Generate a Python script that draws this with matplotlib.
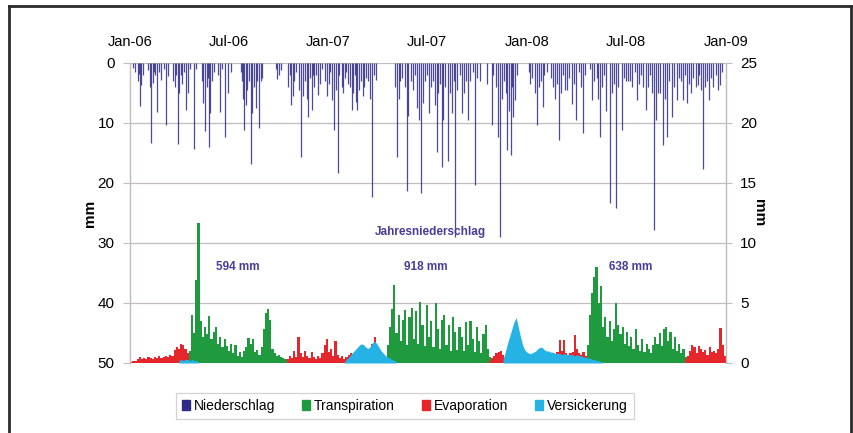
import numpy as np
import matplotlib
matplotlib.use("Agg")
import matplotlib.pyplot as plt
from matplotlib.patches import Patch
from matplotlib.lines import Line2D

plt.rcParams['font.family'] = ['Liberation Sans', 'DejaVu Sans']

# Tage seit 1.1.2006
x_ticks = [0, 181, 365, 546, 730, 912, 1096]
x_labels = ['Jan-06', 'Jul-06', 'Jan-07', 'Jul-07', 'Jan-08', 'Jul-08', 'Jan-09']

# Niederschlag als (Tag, mm)
precip_2006 = [(5, 0.8), (10, 1.5), (14, 3.0), (16, 1.8), (18, 7.2), (20, 3.7), (24, 2.0),
               (33, 1.2), (37, 4.0), (39, 13.3), (42, 3.4), (44, 1.5), (46, 2.0), (50, 8.1),
               (53, 1.5), (57, 2.8), (62, 1.0), (66, 10.3), (70, 2.2), (79, 3.0), (82, 4.0),
               (85, 2.0), (88, 13.5), (91, 5.0), (93, 2.0), (95, 3.5), (99, 1.5), (103, 7.8),
               (106, 5.0), (110, 1.0), (118, 14.4), (122, 1.0), (132, 3.0), (135, 6.7),
               (138, 11.4), (141, 4.0), (143, 2.5), (145, 14.0), (148, 8.4), (151, 3.0),
               (155, 1.5), (162, 2.0), (166, 8.1), (170, 1.0), (175, 12.3), (180, 5.0),
               (186, 1.5), (204, 1.5), (206, 3.0), (208, 6.0), (210, 11.2), (213, 7.0),
               (216, 4.5), (219, 3.0), (222, 16.8), (225, 8.4), (228, 4.0), (231, 7.5),
               (234, 3.0), (237, 10.9), (240, 3.0), (243, 2.5), (268, 1.0), (271, 2.6),
               (274, 2.0), (278, 1.2), (291, 4.0), (294, 2.0), (296, 7.0), (299, 5.5),
               (302, 3.0), (306, 1.5), (310, 4.5), (314, 15.6), (318, 5.5), (321, 3.0),
               (325, 6.0), (328, 9.0), (331, 2.5), (334, 7.8), (336, 2.0), (338, 4.0),
               (342, 2.0), (346, 5.4), (350, 3.5), (353, 1.0), (358, 3.0), (362, 5.5)]
precip_2007 = [(366, 3.5), (368, 1.5), (371, 6.2), (375, 11.2), (378, 4.5), (382, 18.4),
               (385, 2.0), (389, 4.0), (392, 5.0), (395, 2.5), (398, 1.5), (400, 3.5),
               (404, 4.0), (408, 7.8), (411, 5.0), (413, 2.0), (415, 6.5), (418, 7.8),
               (421, 4.5), (425, 3.0), (428, 5.5), (431, 4.0), (434, 2.5), (438, 3.0),
               (442, 6.0), (445, 22.4), (449, 2.0), (453, 2.8), (488, 4.0), (491, 15.6),
               (494, 6.0), (497, 3.0), (501, 2.5), (505, 4.0), (509, 21.4), (512, 8.8),
               (516, 3.0), (520, 4.5), (524, 2.0), (528, 7.5), (531, 9.5), (535, 21.7),
               (538, 6.7), (542, 3.0), (546, 2.0), (550, 8.4), (553, 4.0), (557, 3.0),
               (561, 7.0), (564, 14.8), (567, 5.0), (570, 3.5), (573, 17.3), (576, 9.5),
               (580, 4.0), (585, 16.4), (588, 5.0), (592, 8.4), (595, 3.0), (598, 29.0),
               (602, 4.5), (606, 2.0), (610, 8.4), (614, 5.0), (618, 3.0), (622, 9.5),
               (626, 3.0), (630, 1.5), (635, 20.3), (639, 2.5), (643, 3.0), (656, 3.5),
               (665, 10.3), (668, 2.0), (673, 4.0), (677, 12.3), (680, 29.0), (684, 6.0),
               (688, 3.0), (691, 5.0), (694, 14.5), (697, 8.0), (700, 15.3), (702, 4.0),
               (704, 9.0), (708, 6.2), (712, 2.0)]
precip_2008 = [(733, 1.5), (736, 3.5), (740, 2.5), (744, 5.0), (749, 10.3), (752, 4.0),
               (755, 3.0), (759, 7.3), (762, 2.0), (766, 1.5), (774, 2.5), (778, 4.0),
               (782, 6.0), (786, 3.5), (789, 12.8), (792, 5.0), (796, 2.0), (800, 4.5),
               (803, 4.5), (808, 2.5), (812, 6.8), (816, 3.5), (821, 9.5), (826, 1.5),
               (830, 4.0), (833, 11.7), (837, 2.0), (846, 1.0), (849, 6.2), (853, 3.0),
               (858, 2.5), (861, 6.0), (864, 12.3), (868, 4.0), (872, 2.0), (876, 8.0),
               (882, 23.4), (886, 5.0), (890, 3.5), (893, 24.2), (897, 4.0), (904, 11.2),
               (908, 2.5), (912, 3.0), (916, 3.0), (920, 3.0), (924, 4.0), (928, 1.5),
               (932, 6.2), (936, 3.5), (940, 2.0), (944, 4.0), (948, 7.8), (953, 4.0),
               (956, 2.0), (960, 5.0), (964, 27.8), (968, 9.5), (971, 5.0), (975, 5.0),
               (980, 13.7), (983, 6.0), (987, 12.3), (991, 3.0), (997, 9.0), (1001, 4.0),
               (1005, 6.2), (1009, 2.5), (1013, 3.0), (1017, 6.2), (1021, 2.0), (1024, 6.7),
               (1028, 3.5), (1032, 5.0), (1036, 2.5), (1040, 4.0), (1044, 3.7), (1047, 2.0),
               (1050, 4.5), (1054, 17.6), (1057, 4.0), (1061, 3.0), (1065, 6.2), (1069, 2.5),
               (1073, 4.0), (1077, 2.0), (1081, 4.5), (1085, 3.7), (1089, 1.5)]

# Flüsse in 4-Tages-Schritten (mm), je Abschnitt Starttag + Werte
step = 4
transp_starts = [108, 472, 840]
transp_vals = [
    [1.0, 4.0, 2.5, 6.9, 11.7, 3.5, 2.2, 3.0, 2.4, 3.9, 2.0, 2.6, 3.0, 1.6, 2.2, 1.3, 2.0, 1.4,
     1.0, 1.6, 0.8, 1.5, 0.6, 0.9, 0.5, 1.0, 1.3, 2.1, 1.6, 2.0, 0.9, 1.1, 0.7, 1.3, 2.8, 4.2,
     4.5, 3.6, 1.2, 0.8, 0.6, 0.7, 0.5, 0.4, 0.3],
    [1.5, 3.0, 4.5, 6.5, 2.5, 4.0, 1.8, 3.6, 4.4, 1.5, 3.8, 4.6, 2.0, 4.3, 1.6, 5.1, 3.2, 1.4,
     4.8, 2.2, 3.5, 1.3, 5.0, 2.8, 1.2, 3.6, 4.0, 1.5, 3.2, 1.0, 3.8, 2.6, 1.1, 3.0, 2.2, 1.0,
     3.4, 1.5, 3.5, 2.0, 0.9, 3.0, 1.8, 0.8, 2.4, 3.2, 1.2, 0.5],
    [1.5, 4.0, 5.8, 7.2, 8.0, 5.0, 6.4, 3.0, 3.8, 2.2, 3.5, 1.8, 2.8, 5.0, 3.2, 2.4, 3.0, 1.6,
     2.6, 1.4, 2.2, 1.2, 2.8, 1.5, 1.0, 2.0, 0.9, 1.6, 1.2, 0.8, 1.5, 2.2, 1.6, 2.5, 1.4, 2.8,
     3.0, 1.8, 2.6, 1.2, 2.2, 1.0, 1.6, 0.8, 1.2, 0.5],
]
evap_starts = [0, 288, 660, 1020]
evap_vals = [
    [0.1, 0.2, 0.2, 0.3, 0.5, 0.3, 0.4, 0.3, 0.5, 0.4, 0.3, 0.5, 0.4, 0.6, 0.4, 0.5, 0.6, 0.5,
     0.7, 0.6, 1.1, 1.3, 1.2, 1.6, 1.5, 1.2, 0.8],
    [0.3, 0.6, 0.4, 1.0, 0.5, 2.2, 0.8, 0.5, 1.0, 0.6, 0.4, 0.9, 0.5, 0.3, 0.6, 0.4, 0.8, 1.5,
     2.0, 0.9, 1.2, 0.6, 1.8, 0.7, 0.4, 0.6, 0.3, 0.5, 0.7, 0.8, 0.5, 0.6, 0.4, 0.5, 0.7, 0.6,
     0.8, 1.0, 1.2, 1.6, 2.2, 1.4, 1.0],
    [0.2, 0.4, 0.6, 0.8, 0.9, 1.0, 0.7, 0.4, 0.3, 0.3, 0.2, 0.2, 0.2, 0.3, 0.3, 0.4, 0.4, 0.7,
     0.4, 0.3, 0.3, 0.4, 0.4, 0.5, 0.5, 0.5, 0.6, 0.6, 0.6, 0.7, 0.6, 0.9, 1.9, 1.0, 1.9, 0.8,
     0.7, 0.8, 0.9, 2.3, 1.2, 0.8, 0.7, 0.9, 0.6],
    [0.3, 0.6, 1.0, 1.5, 1.3, 0.8, 1.4, 1.2, 0.9, 1.1, 0.7, 1.3, 0.9, 1.0, 0.8, 1.2, 2.9, 1.5,
     0.6],
]
seep_starts = [88, 392, 684]
seep_vals = [
    [0.2, 0.3, 0.2, 0.3, 0.3, 0.2, 0.3, 0.2, 0.2, 0.1],
    [0.1, 0.3, 0.5, 0.7, 0.9, 1.1, 1.3, 1.5, 1.6, 1.5, 1.3, 1.2, 1.4, 1.7, 1.8, 1.6, 1.3, 1.0,
     0.8, 0.6, 0.5, 0.4, 0.3, 0.2, 0.1],
    [0.3, 0.9, 1.6, 2.2, 2.8, 3.4, 3.8, 3.0, 2.2, 1.5, 1.1, 0.9, 0.8, 0.8, 0.9, 1.0, 1.2, 1.3,
     1.3, 1.1, 1.0, 1.0, 0.9, 0.9, 0.8, 0.8, 0.8, 0.7, 0.8, 0.7, 0.7, 0.7, 0.7, 0.6, 0.7, 0.6,
     0.6, 0.5, 0.5, 0.4, 0.4, 0.3, 0.3, 0.2, 0.2, 0.1, 0.1],
]

c_prec = '#2e2a86'
c_transp = '#1f9a3f'
c_evap = '#e5262b'
c_seep = '#25b3e6'
c_grid = '#c4bdbd'

fig = plt.figure(figsize=(8.54, 4.33), dpi=100)
ax = fig.add_axes([130 / 854, 1 - 363 / 433, 596 / 854, 300 / 433])
ax2 = ax.twinx()

# Niederschlag hängt von oben
prec = np.array(precip_2006 + precip_2007 + precip_2008)
ax.vlines(prec[:, 0], 0, prec[:, 1], color=c_prec, linewidth=0.9, alpha=0.85)
ax.set_ylim(50, 0)
ax.set_xlim(0, 1096)
ax.set_yticks([0, 10, 20, 30, 40, 50])
ax.yaxis.grid(True, color=c_grid, linewidth=0.9)
ax.set_axisbelow(True)


def draw_bars(starts, vals, color):
    for s, v in zip(starts, vals):
        d = s + step * np.arange(len(v))
        ax2.bar(d, v, width=step, align='edge', color=color, linewidth=0)


def draw_area(starts, vals, color):
    for s, v in zip(starts, vals):
        d = s + step * np.arange(len(v)) + step / 2
        ax2.fill_between(d, 0, v, color=color, linewidth=0)


draw_bars(transp_starts, transp_vals, c_transp)
draw_bars(evap_starts, evap_vals, c_evap)
draw_area(seep_starts, seep_vals, c_seep)
ax2.set_ylim(0, 25)
ax2.set_yticks([0, 5, 10, 15, 20, 25])

ax.xaxis.tick_top()
ax.set_xticks(x_ticks)
ax.set_xticklabels(x_labels)
ax.tick_params(axis='x', length=0, pad=10, labelsize=10.5)
ax.tick_params(axis='y', length=5, width=0.8, color=c_grid, pad=6, labelsize=11)
ax2.tick_params(axis='y', length=4, width=0.8, color=c_grid, pad=6, labelsize=11)

for a in (ax, ax2):
    for side in ('top', 'bottom'):
        a.spines[side].set_visible(False)
    for side in ('left', 'right'):
        a.spines[side].set_color(c_grid)
        a.spines[side].set_linewidth(0.9)

ax.set_ylabel('mm', fontsize=11, fontweight='bold')
ax.yaxis.set_label_coords((97 - 130) / 596, 0.5)
ax2.set_ylabel('mm', fontsize=11, fontweight='bold', rotation=270, va='center')
ax2.yaxis.set_label_coords((759 - 130) / 596, 0.5)

txt_c = '#4a3c98'
ax.text(553, 28.2, 'Jahresniederschlag', color=txt_c, fontsize=8.5, fontweight='bold',
        ha='center', va='center')
ax.text(199, 34, '594 mm', color=txt_c, fontsize=8.5, fontweight='bold', ha='center', va='center')
ax.text(544, 34, '918 mm', color=txt_c, fontsize=8.5, fontweight='bold', ha='center', va='center')
ax.text(920, 34, '638 mm', color=txt_c, fontsize=8.5, fontweight='bold', ha='center', va='center')

handles = [Patch(color=c_prec, label='Niederschlag'),
           Patch(color=c_transp, label='Transpiration'),
           Patch(color=c_evap, label='Evaporation'),
           Patch(color=c_seep, label='Versickerung')]
leg = fig.legend(handles=handles, loc='center', bbox_to_anchor=(405 / 854, 1 - 406 / 433),
                 ncol=4, fontsize=10, frameon=True, fancybox=False, handlelength=0.55,
                 handleheight=0.75, handletextpad=0.3, columnspacing=1.95, borderpad=0.45)
leg.get_frame().set_edgecolor('#c8c8c8')
leg.get_frame().set_linewidth(0.9)

# äußerer Rahmen
frame_c = '#2a2a2a'
fig.add_artist(Line2D([9 / 854, 9 / 854], [0, 1 - 6 / 433], color=frame_c, linewidth=2,
                      transform=fig.transFigure))
fig.add_artist(Line2D([851 / 854, 851 / 854], [0, 1 - 6 / 433], color=frame_c, linewidth=2,
                      transform=fig.transFigure))
fig.add_artist(Line2D([9 / 854, 851 / 854], [1 - 6 / 433, 1 - 6 / 433], color=frame_c,
                      linewidth=2, transform=fig.transFigure))

fig.savefig('out.png', dpi=100)
